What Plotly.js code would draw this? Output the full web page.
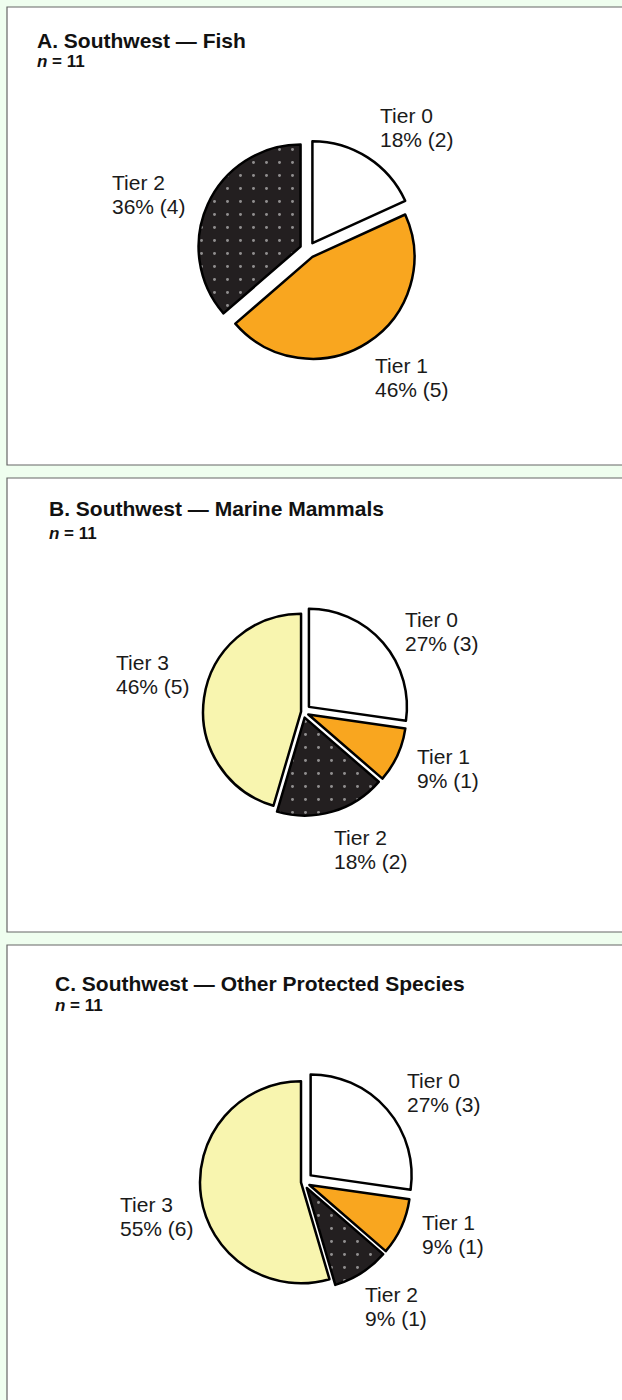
<!DOCTYPE html>
<html>
<head>
<meta charset="utf-8">
<script src="https://cdn.plot.ly/plotly-3.0.1.min.js"></script>
<style>
  html, body { margin: 0; padding: 0; background: #EFFEEF; }
  #chart { width: 622px; height: 1400px; }
</style>
</head>
<body>
<div id="chart"></div>
<script>
// ---------------- DATA ----------------
const tierLabels = ['Tier 0', 'Tier 1', 'Tier 2', 'Tier 3'];

const fishCounts = [2, 5, 4];
const fishPct = ['18%', '46%', '36%'];

const mammalCounts = [3, 1, 2, 5];
const mammalPct = ['27%', '9%', '18%', '46%'];

const otherCounts = [3, 1, 1, 6];
const otherPct = ['27%', '9%', '9%', '55%'];

const panelTitles = ['A. Southwest — Fish', 'B. Southwest — Marine Mammals', 'C. Southwest — Other Protected Species'];
const sampleSizes = [11, 11, 11];

// ---------------- STYLE / LAYOUT CONFIG ----------------
const W = 622, H = 1400;
const tierColors = ['#FFFFFF', '#F9A61F', '#231F20', '#F8F5AF'];
const tierPattern = ['', '', '.', ''];

const panels = [
  { counts: fishCounts, pct: fishPct, box: [7, 7, 700, 465], title: [35, 40], n: [35, 62],
    cx: 308, cy: 250, r: 102, pull: [0.08, 0.08, 0.08],
    lab: [[378, 108], [373, 358], [110, 175]] },
  { counts: mammalCounts, pct: mammalPct, box: [7, 478, 700, 932], title: [47, 509], n: [47, 533],
    cx: 303, cy: 712, r: 98, pull: [0.08, 0.06, 0.06, 0.02],
    lab: [[403, 612], [415, 749], [332, 830], [114, 655]] },
  { counts: otherCounts, pct: otherPct, box: [7, 945, 700, 1420], title: [53, 983], n: [53, 1005],
    cx: 303, cy: 1182, r: 101, pull: [0.10, 0.07, 0.07, 0.02],
    lab: [[405, 1073], [420, 1215], [363, 1287], [118, 1197]] }
];

const px = x => x / W;
const py = y => 1 - y / H;

const data = [];
const shapes = [];
const annotations = [];

panels.forEach((p, i) => {
  const k = p.counts.length;
  const maxPull = Math.max(...p.pull);
  const S = 2 * p.r * (1 + maxPull);
  data.push({
    type: 'pie',
    values: p.counts,
    labels: tierLabels.slice(0, k),
    sort: false,
    direction: 'clockwise',
    rotation: 0,
    pull: p.pull,
    textinfo: 'none',
    hoverinfo: 'none',
    showlegend: false,
    domain: { x: [px(p.cx - S / 2), px(p.cx + S / 2)], y: [py(p.cy + S / 2), py(p.cy - S / 2)] },
    marker: {
      colors: tierColors.slice(0, k),
      line: { color: '#000000', width: 2.5 },
      pattern: {
        shape: tierPattern.slice(0, k),
        fillmode: 'overlay',
        fgcolor: '#FFFFFF',
        size: 13,
        solidity: 0.04
      }
    }
  });

  shapes.push({
    type: 'rect', xref: 'paper', yref: 'paper', layer: 'below',
    x0: px(p.box[0]), x1: px(p.box[2]), y0: py(p.box[1]), y1: py(p.box[3]),
    fillcolor: '#FFFFFF', line: { color: '#666666', width: 1.2 }
  });

  annotations.push({
    xref: 'paper', yref: 'paper', x: px(p.title[0]), y: py(p.title[1]),
    xanchor: 'left', yanchor: 'middle', showarrow: false,
    text: '<b>' + panelTitles[i] + '</b>',
    font: { family: 'Liberation Sans, Arial, sans-serif', size: 21, color: '#111' }
  });
  annotations.push({
    xref: 'paper', yref: 'paper', x: px(p.n[0]), y: py(p.n[1]),
    xanchor: 'left', yanchor: 'middle', showarrow: false,
    text: '<b><i>n</i> = ' + sampleSizes[i] + '</b>',
    font: { family: 'Liberation Sans, Arial, sans-serif', size: 17, color: '#111' }
  });

  p.lab.forEach((pos, j) => {
    const line1 = tierLabels[j];
    const line2 = p.pct[j] + ' (' + p.counts[j] + ')';
    [line1, line2].forEach((t, li) => {
      annotations.push({
        xref: 'paper', yref: 'paper', x: px(pos[0]), y: py(pos[1] - 6 + li * 24),
        xanchor: 'left', yanchor: 'top', showarrow: false, align: 'left',
        text: t,
        font: { family: 'Liberation Sans, Arial, sans-serif', size: 21, color: '#1a1a1a' }
      });
    });
  });
});

const layout = {
  width: W, height: H,
  margin: { l: 0, r: 0, t: 0, b: 0 },
  paper_bgcolor: '#EFFEEF',
  plot_bgcolor: '#EFFEEF',
  shapes: shapes,
  annotations: annotations
};

Plotly.newPlot('chart', data, layout, { displayModeBar: false, staticPlot: true });
</script>
</body>
</html>
